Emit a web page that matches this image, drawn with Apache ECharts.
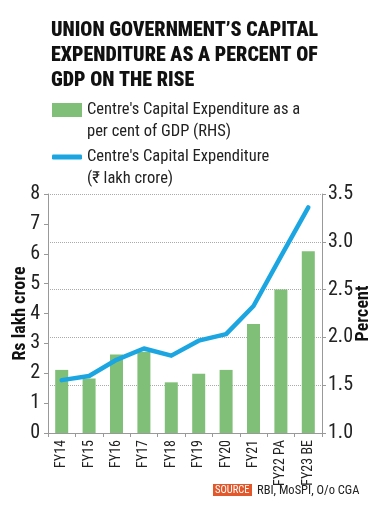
<!DOCTYPE html>
<html>
<head>
<meta charset="utf-8">
<script src="https://cdn.jsdelivr.net/npm/echarts@6/dist/echarts.min.js"></script>
<style>
html,body{margin:0;padding:0;background:#fff;}
#c{width:380px;height:509px;}
</style>
</head>
<body>
<div id="c"></div>
<script>
const categories = ['FY14','FY15','FY16','FY17','FY18','FY19','FY20','FY21','FY22 PA','FY23 BE'];
const capexPctGdp = [1.66,1.57,1.82,1.85,1.53,1.62,1.66,2.14,2.50,2.90];
const capexLakhCrore = [1.77,1.91,2.45,2.83,2.59,3.09,3.31,4.25,5.91,7.55];
const leftTicks = {min:0, max:8, interval:1};
const rightTicks = {min:1, max:3.5, interval:0.5};

const FONT = '"Roboto Condensed","DejaVu Sans Condensed",sans-serif';
const barName = "Centre's Capital Expenditure as a\nper cent of GDP (RHS)";
const lineName = "Centre's Capital Expenditure\n(₹ lakh crore)";

const chart = echarts.init(document.getElementById('c'), null, {renderer:'canvas'});
chart.setOption({
  animation:false,
  backgroundColor:'#fff',
  title:{
    text:"UNION GOVERNMENT’S CAPITAL\nEXPENDITURE AS A PERCENT OF\nGDP ON THE RISE",
    left:46, top:13,
    textStyle:{fontFamily:FONT, fontSize:20, fontWeight:900, color:'#111', lineHeight:25}
  },
  legend:[
    {
      data:[{name:barName, icon:'rect'}],
      left:47, top:72, orient:'vertical',
      itemWidth:30, itemHeight:14,
      formatter: n => '\n' + n,
      textStyle:{fontFamily:FONT, fontSize:16.5, color:'#222', lineHeight:22},
      selectedMode:false
    },
    {
      data:[{name:lineName, icon:'roundRect'}],
      left:47, top:119, orient:'vertical',
      itemWidth:30, itemHeight:5,
      formatter: n => '\n' + n,
      textStyle:{fontFamily:FONT, fontSize:16.5, color:'#222', lineHeight:22},
      selectedMode:false
    }
  ],
  grid:{left:48, right:58, top:194, bottom:76, containLabel:false, outerBoundsMode:'none'},
  xAxis:{
    type:'category',
    data:categories,
    boundaryGap:true,
    axisLine:{lineStyle:{color:'#999', width:1}},
    axisTick:{show:true, alignWithLabel:false, length:4, lineStyle:{color:'#999'}},
    axisLabel:{rotate:90, margin:7, fontFamily:FONT, fontSize:14, color:'#222', interval:0}
  },
  yAxis:[
    {
      type:'value', position:'left',
      min:leftTicks.min, max:leftTicks.max, interval:leftTicks.interval,
      name:'Rs lakh crore', nameLocation:'middle', nameGap:19, nameMoveOverlap:false,
      nameTextStyle:{fontFamily:FONT, fontSize:18, fontWeight:'bold', color:'#111'},
      axisLine:{show:true, lineStyle:{color:'#999'}},
      axisTick:{show:true, length:4, lineStyle:{color:'#999'}},
      axisLabel:{margin:8, fontFamily:FONT, fontSize:20, color:'#222'},
      splitLine:{show:false}
    },
    {
      type:'value', position:'right',
      min:rightTicks.min, max:rightTicks.max, interval:rightTicks.interval,
      name:'Percent', nameLocation:'middle', nameGap:32, nameMoveOverlap:false,
      nameTextStyle:{fontFamily:FONT, fontSize:18, fontWeight:'bold', color:'#111'},
      axisLine:{show:true, lineStyle:{color:'#999'}},
      axisTick:{show:true, length:4, lineStyle:{color:'#999'}},
      axisLabel:{margin:6, fontFamily:FONT, fontSize:20, color:'#222', formatter:v=>v.toFixed(1)},
      splitLine:{show:true, lineStyle:{color:'#aaa', type:'dotted', width:1}}
    }
  ],
  series:[
    {
      name:barName, type:'bar', yAxisIndex:1,
      data:capexPctGdp, barWidth:13,
      itemStyle:{color:'#80bf77'}
    },
    {
      name:lineName, type:'line', yAxisIndex:0,
      data:capexLakhCrore, symbol:'none', smooth:false,
      lineStyle:{color:'#1ba6e2', width:4.5, cap:'round', join:'round'},
      itemStyle:{color:'#1ba6e2'}
    }
  ],
  graphic:[
    {type:'rect', left:213, top:484, shape:{width:39, height:12}, style:{fill:'#e2582b'}},
    {type:'text', left:215, top:485, style:{text:'SOURCE', fill:'#fff', font:'10.5px '+FONT}},
    {type:'text', left:257, top:484, style:{text:'RBI, MoSPI, O/o CGA', fill:'#222', font:'12.5px '+FONT}}
  ]
});
</script>
</body>
</html>
